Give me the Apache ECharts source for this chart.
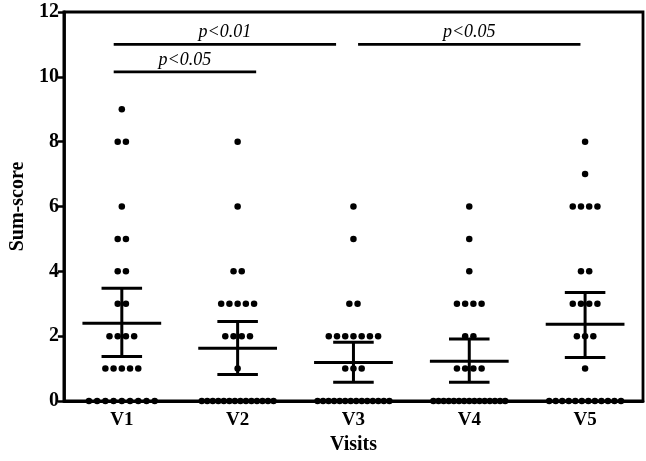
<!DOCTYPE html>
<html>
<head>
<meta charset="utf-8">
<script src="https://cdn.jsdelivr.net/npm/echarts@6/dist/echarts.min.js"></script>
<style>html,body{margin:0;padding:0;background:#fff;}#c{width:646px;height:461px;}</style>
</head>
<body>
<div id="c"></div>
<script>
// ---- data ----
const categories = ['V1', 'V2', 'V3', 'V4', 'V5'];
const scoreLevels = [0, 1, 2, 3, 4, 5, 6, 7, 8, 9];
// number of subjects at each score level, per visit
const countsV1 = [9, 5, 4, 2, 2, 2, 1, 0, 2, 1];
const countsV2 = [14, 1, 4, 5, 2, 0, 1, 0, 1, 0];
const countsV3 = [14, 3, 7, 2, 0, 1, 1, 0, 0, 0];
const countsV4 = [15, 4, 2, 4, 1, 1, 1, 0, 0, 0];
const countsV5 = [12, 1, 3, 4, 2, 0, 4, 1, 1, 0];
const means = [2.40, 1.63, 1.19, 1.23, 2.37];
const ciUpper = [3.48, 2.45, 1.81, 1.91, 3.35];
const ciLower = [1.37, 0.82, 0.58, 0.58, 1.34];
const yTickValues = [0, 2, 4, 6, 8, 10, 12];
const compFrom = [0, 0, 2];
const compTo = [1, 2, 4];
const compLabels = ['p<0.05', 'p<0.01', 'p<0.05'];
const compLevels = [10.15, 11.0, 11.0];

// ---- layout helpers ----
const allCounts = [countsV1, countsV2, countsV3, countsV4, countsV5];
const dotStep = 0.071, maxRow = 0.62;
const dots = [];
allCounts.forEach((counts, ci) => {
  counts.forEach((n, li) => {
    if (!n) return;
    const step = n > 1 ? Math.min(dotStep, maxRow / (n - 1)) : 0;
    for (let i = 0; i < n; i++) {
      dots.push([ci + (i - (n - 1) / 2) * step, scoreLevels[li]]);
    }
  });
});
const bracketEnds = [[-0.07, 0.16], [-0.07, -0.15], [0.04, -0.04]];
const bracketData = compFrom.map((f, i) => [f + bracketEnds[i][0], compTo[i] + bracketEnds[i][1], compLevels[i], i]);
const errData = categories.map((c, i) => [i, means[i], ciLower[i], ciUpper[i]]);

const font = '"Liberation Serif", "Times New Roman", serif';
const chart = echarts.init(document.getElementById('c'), null, {renderer: 'canvas'});
chart.setOption({
  animation: false,
  grid: {left: 57, right: 3, top: 12, bottom: 60, show: true, borderColor: '#000', borderWidth: 2.8, backgroundColor: 'transparent'},
  xAxis: [{
    type: 'category', data: categories, boundaryGap: true,
    axisLine: {onZero: false, lineStyle: {color: '#000', width: 2.8}},
    axisTick: {inside: true, alignWithLabel: true, length: 6, lineStyle: {color: '#000', width: 2.5}},
    axisLabel: {color: '#000', fontFamily: font, fontWeight: 'bold', fontSize: 19, margin: 10},
    name: 'Visits', nameLocation: 'middle', nameGap: 33,
    nameTextStyle: {color: '#000', fontFamily: font, fontWeight: 'bold', fontSize: 20}
  }, {
    type: 'value', min: -0.5, max: 4.5, show: false
  }],
  yAxis: {
    type: 'value', min: 0, max: 12, interval: 2,
    splitLine: {show: false},
    axisLine: {show: true, onZero: false, lineStyle: {color: '#000', width: 2.8}},
    axisTick: {show: true, length: 6, lineStyle: {color: '#000', width: 2.5}},
    axisLabel: {color: '#000', fontFamily: font, fontWeight: 'bold', fontSize: 20, margin: 5,
      formatter: v => yTickValues.indexOf(v) >= 0 ? String(v) : ''},
    name: 'Sum-score', nameLocation: 'middle', nameGap: 32,
    nameTextStyle: {color: '#000', fontFamily: font, fontWeight: 'bold', fontSize: 20}
  },
  series: [{
    type: 'scatter', xAxisIndex: 1, data: dots, symbolSize: 6.5,
    itemStyle: {color: '#000', opacity: 1}, z: 3
  }, {
    type: 'custom', xAxisIndex: 1, data: errData, z: 4,
    renderItem: (params, api) => {
      const x = api.value(0);
      const m = api.coord([x, api.value(1)]);
      const lo = api.coord([x, api.value(2)]);
      const hi = api.coord([x, api.value(3)]);
      const mL = api.coord([x - 0.34, api.value(1)]);
      const mR = api.coord([x + 0.34, api.value(1)]);
      const cL = api.coord([x - 0.175, 0]);
      const cR = api.coord([x + 0.175, 0]);
      const st = {stroke: '#000', lineWidth: 3};
      return {type: 'group', children: [
        {type: 'line', shape: {x1: m[0], y1: lo[1], x2: m[0], y2: hi[1]}, style: st},
        {type: 'line', shape: {x1: cL[0], y1: lo[1], x2: cR[0], y2: lo[1]}, style: st},
        {type: 'line', shape: {x1: cL[0], y1: hi[1], x2: cR[0], y2: hi[1]}, style: st},
        {type: 'line', shape: {x1: mL[0], y1: m[1], x2: mR[0], y2: m[1]}, style: st}
      ]};
    }
  }, {
    type: 'custom', xAxisIndex: 1, data: bracketData, z: 4,
    renderItem: (params, api) => {
      const d = bracketData[params.dataIndex];
      const a = api.coord([d[0], d[2]]);
      const b = api.coord([d[1], d[2]]);
      return {type: 'group', children: [
        {type: 'line', shape: {x1: a[0], y1: a[1], x2: b[0], y2: b[1]}, style: {stroke: '#000', lineWidth: 2.8}},
        {type: 'text', x: (a[0] + b[0]) / 2, y: a[1] - 3, style: {text: compLabels[d[3]], fill: '#000',
          font: 'italic 18px ' + font, textAlign: 'center', textVerticalAlign: 'bottom'}}
      ]};
    }
  }]
});
</script>
</body>
</html>
